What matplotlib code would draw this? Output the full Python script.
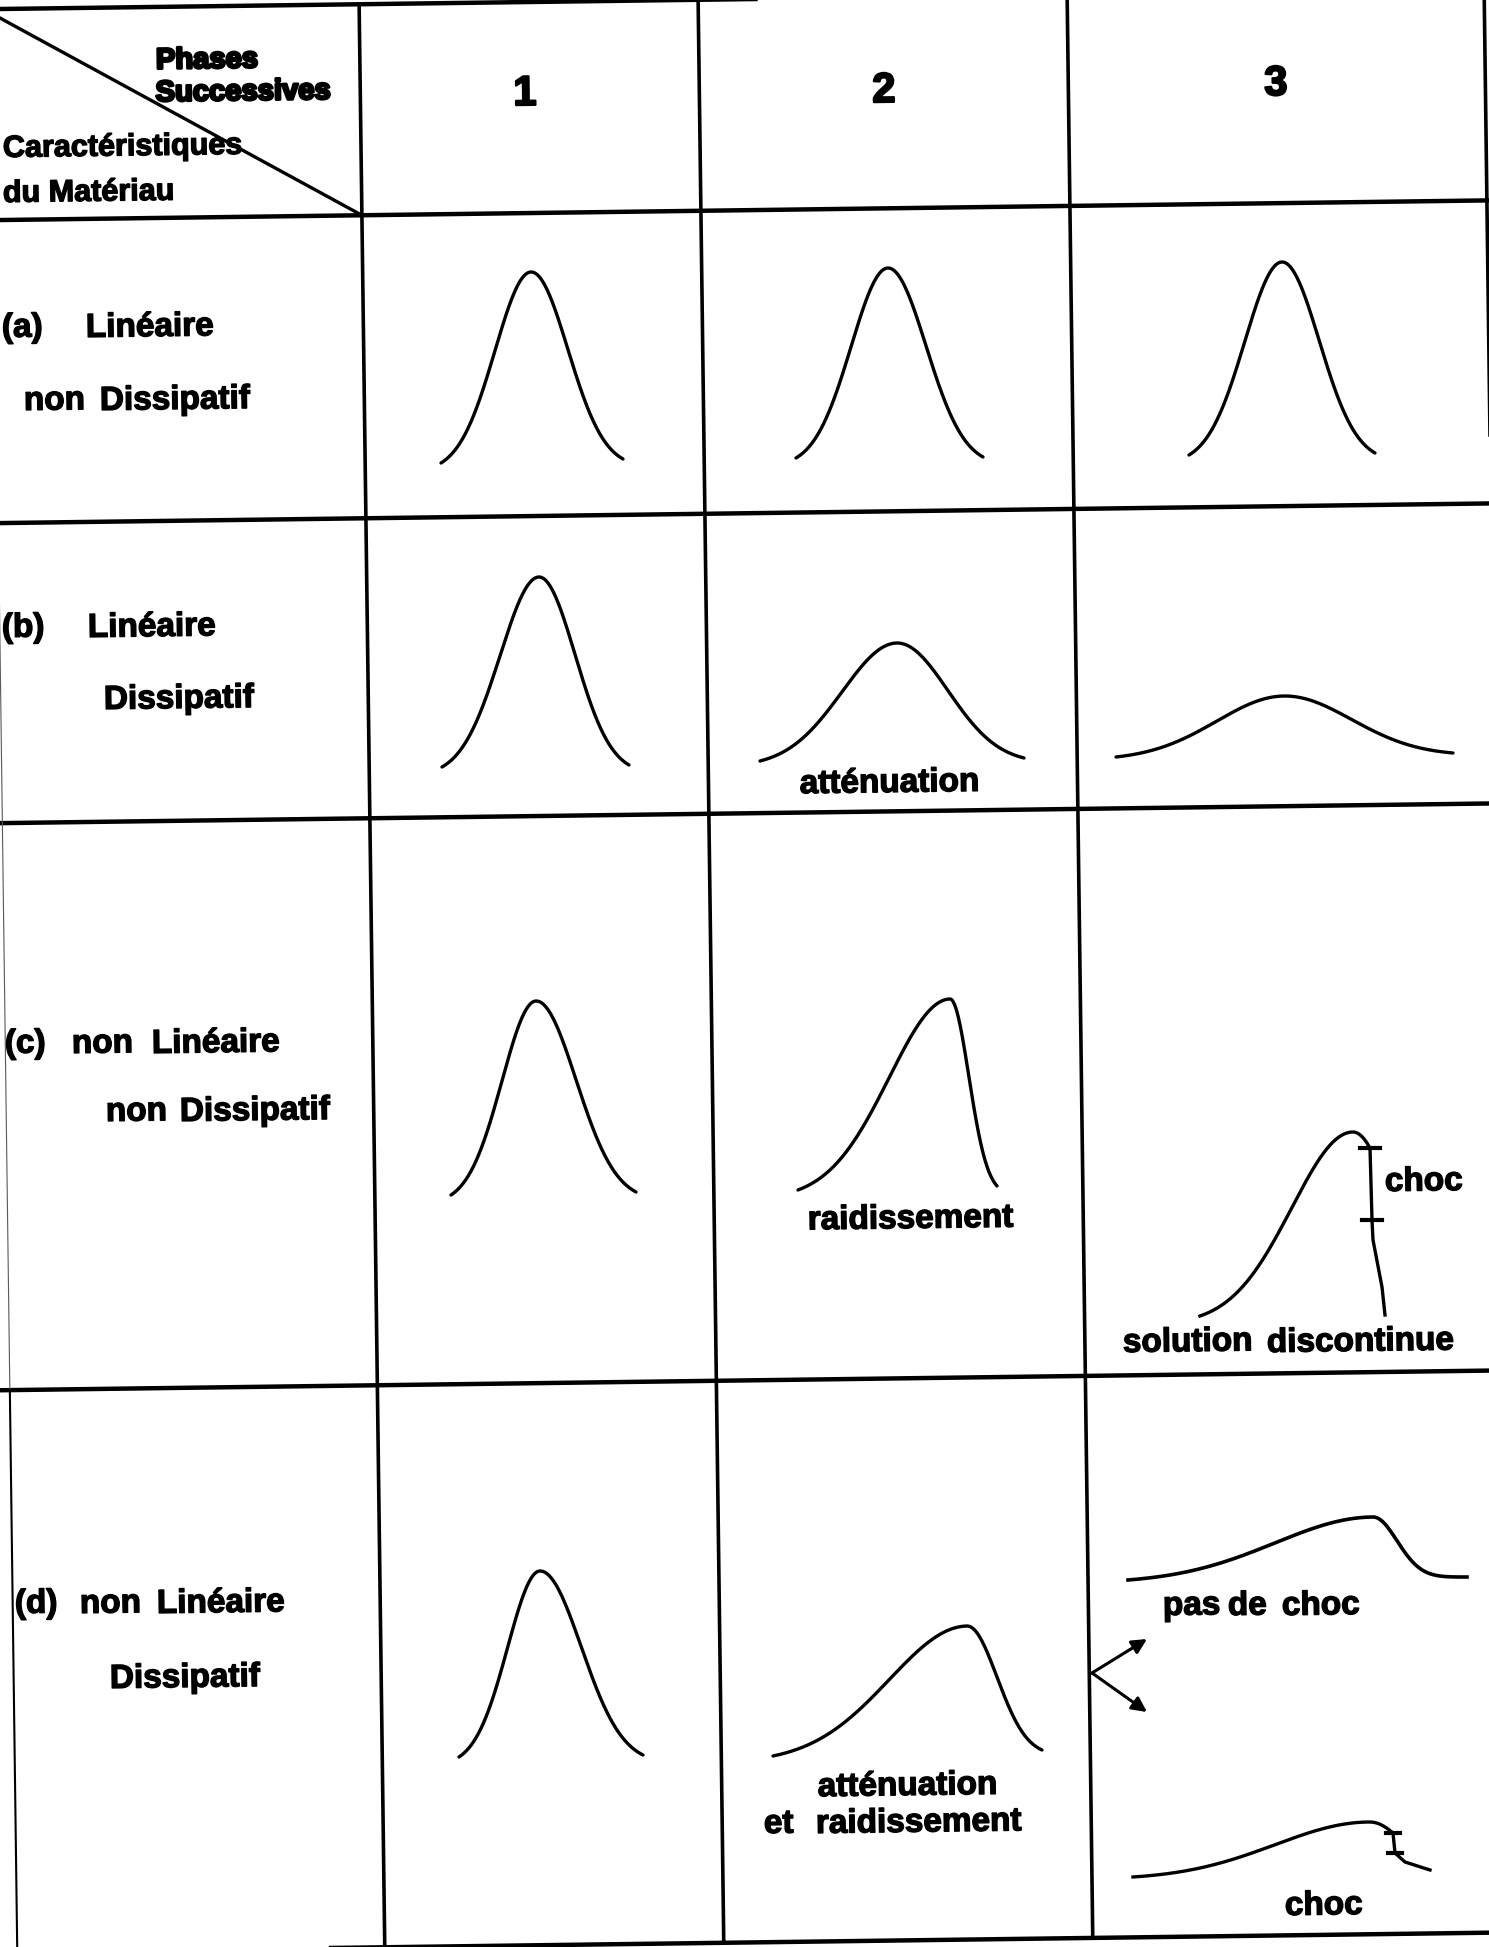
import numpy as np
import matplotlib
matplotlib.use("Agg")
import matplotlib.pyplot as plt
import matplotlib.patheffects as pe

# scanned table: pulse evolution for 4 kinds of material over 3 phases
W, H = 1489, 1947
TILT = 0.0132          # the scan is rotated by ~0.75 deg

# table grid, page coordinates (before the tilt)
col_edges = [359, 698, 1067, 1484]
row_edges = [9, 220, 523, 823, 1390, 1952]

phases = ["1", "2", "3"]
header_top = ["Phases", "Successives"]
header_side = ["Caractéristiques", "du Matériau"]

# row labels, one list of words per row
label_a = ["(a)", "Linéaire", "non", "Dissipatif"]
label_b = ["(b)", "Linéaire", "Dissipatif"]
label_c = ["(c)", "non", "Linéaire", "non", "Dissipatif"]
label_d = ["(d)", "non", "Linéaire", "Dissipatif"]

# pulses: left foot (x, y), crest (x, y), right foot (x, y)
pulse_a = [(441, 463, 531, 272, 623, 459),
           (796, 458, 888, 268, 983, 457),
           (1189, 455, 1282, 262, 1375, 453)]
pulse_b = [(442, 767, 539, 577, 629, 765),
           (760, 761, 897, 643, 1024, 758),
           (1116, 757, 1284, 696, 1453, 753)]
pulse_c = [(451, 1195, 536, 1001, 636, 1192),
           (798, 1190, 950, 999, 997, 1186)]
pulse_d = [(459, 1757, 540, 1571, 643, 1755),
           (773, 1756, 967, 1626, 1042, 1750)]
# (d) phase 3, no shock: slow rise, quick fall onto a tail
pas_de_choc = (1128, 1580, 1373, 1517, 1467, 1577)
pas_de_choc_sigma = (98, 24)

# shocked pulses: foot, crest, end of the rounded cap, then the front
choc_c_rise = (1200, 1316, 1353, 1132, 1367, 1143)
choc_c_front = [(1370, 1148), (1372, 1220), (1373, 1240), (1382, 1287), (1385, 1315)]
choc_c_ticks = [1148, 1220]
choc_d_rise = (1133, 1877, 1370, 1822, 1393, 1833)
choc_d_front = [(1395, 1853), (1405, 1862), (1430, 1870)]
choc_d_ticks = [1833, 1853]


def to_img(u, v):
    u = np.asarray(u, float)
    v = np.asarray(v, float)
    return u + TILT * v, v - TILT * u


def pulse(x0, y0, xp, yp, x1, y1, sl=None, sr=None, n=300):
    sl = sl or (xp - x0) / 2.5
    sr = sr or (x1 - xp) / 2.5
    x = np.linspace(x0, x1, n)
    base = y0 + (y1 - y0) * (x - x0) / (x1 - x0)
    amp = y0 + (y1 - y0) * (xp - x0) / (x1 - x0) - yp
    left = x < xp
    g = np.where(left, np.exp(-0.5 * ((x - xp) / sl) ** 2),
                 np.exp(-0.5 * ((x - xp) / sr) ** 2))
    gl = np.exp(-0.5 * ((x0 - xp) / sl) ** 2)
    gr = np.exp(-0.5 * ((x1 - xp) / sr) ** 2)
    g = np.where(left, (g - gl) / (1 - gl), (g - gr) / (1 - gr))
    return x, base - amp * g


def shocked(rise, front):
    x0, y0, xp, yp, xc, yc = rise
    amp = y0 - yp
    sl = (xp - x0) / 2.5
    xa = np.linspace(x0, xp, 200)
    g0 = np.exp(-3.125)
    ya = y0 - amp * (np.exp(-0.5 * ((xa - xp) / sl) ** 2) - g0) / (1 - g0)
    # rounded cap between the crest and the top of the front
    sr = (xc - xp) / np.sqrt(-2 * np.log(1 - (yc - yp) / amp))
    xb = np.linspace(xp, xc, 40)
    yb = yp + amp * (1 - np.exp(-0.5 * ((xb - xp) / sr) ** 2))
    fx = [p[0] for p in front]
    fy = [p[1] for p in front]
    return np.r_[xa, xb, fx], np.r_[ya, yb, fy]


fig = plt.figure(figsize=(W / 100, H / 100), dpi=100)
ax = fig.add_axes([0, 0, 1, 1])
ax.set_xlim(0, W)
ax.set_ylim(H, 0)
ax.axis("off")

# grid
for v in row_edges:
    x, y = to_img([-20, 1510], [v, v])
    ax.plot(x, y, color="k", lw=3.2, solid_capstyle="butt")
for u in col_edges:
    x, y = to_img([u, u], [row_edges[0], row_edges[-1]])
    ax.plot(x, y, color="k", lw=2.6)
x, y = to_img([-8.5, -8.5], [540, 1390])
ax.plot(x, y, color="0.35", lw=0.8)
x, y = to_img([-8.5, -8.5], [1390, 1952])
ax.plot(x, y, color="k", lw=1.5)
x, y = to_img([-0.3, col_edges[0]], [18, row_edges[1]])
ax.plot(x, y, color="k", lw=2.4)

FONT = ["Liberation Sans", "DejaVu Sans"]


def put(x, y, s, size=24, ha="left", stroke=1.0):
    ax.text(x, y, s, ha=ha, va="baseline", fontsize=size, fontweight="bold",
            family=FONT, rotation=0.76, rotation_mode="anchor",
            path_effects=[pe.withStroke(linewidth=stroke, foreground="k")])


# header
put(207, 68, header_top[0], size=21, ha="center", stroke=2.0)
put(243, 100, header_top[1], size=21, ha="center", stroke=2.0)
put(3, 157, header_side[0], size=22)
put(3, 202, header_side[1], size=22)
for s, x, y in zip(phases, [525, 884, 1276], [105, 102, 95]):
    put(x, y, s, size=30, ha="center", stroke=1.6)

# row labels
for words, xs, ys in [
        (label_a, [2, 86, 24, 100], [337, 337, 410, 410]),
        (label_b, [2, 88, 104], [637, 637, 709]),
        (label_c, [5, 72, 152, 106, 180], [1053, 1053, 1053, 1121, 1121]),
        (label_d, [15, 80, 157, 110], [1613, 1613, 1613, 1688])]:
    for s, x, y in zip(words, xs, ys):
        put(x, y, s)

# pulses
for row in (pulse_a, pulse_b, pulse_c, pulse_d):
    for p in row:
        x, y = pulse(*p)
        ax.plot(x, y, color="k", lw=2.4, solid_capstyle="round")
x, y = pulse(*pas_de_choc, *pas_de_choc_sigma)
ax.plot(x, y, color="k", lw=2.6)

for rise, front, ticks, half in [(choc_c_rise, choc_c_front, choc_c_ticks, 10),
                                 (choc_d_rise, choc_d_front, choc_d_ticks, 7)]:
    x, y = shocked(rise, front)
    ax.plot(x, y, color="k", lw=2.4)
    for t in ticks:
        xt = np.interp(t, y[-len(front) - 1:], x[-len(front) - 1:])
        ax.plot([xt - half, xt + half], [t, t], color="k", lw=3.0)

# cell annotations
put(890, 792, "atténuation", ha="center")
put(911, 1228, "raidissement", ha="center")
put(908, 1795, "atténuation", ha="center")
put(764, 1833, "et")
put(816, 1833, "raidissement")
put(1385, 1191, "choc")
put(1123, 1352, "solution")
put(1267, 1352, "discontinue")
put(1163, 1615, "pas")
put(1228, 1615, "de")
put(1282, 1615, "choc")
put(1285, 1915, "choc")

# fork towards the two possible outcomes
for tip in [(1147, 1639), (1147, 1712)]:
    ax.annotate("", xy=tip, xytext=(1092, 1673),
                arrowprops=dict(arrowstyle="-|>", lw=2.2, color="k",
                                mutation_scale=22, shrinkA=0, shrinkB=0))

fig.savefig("out.png", dpi=100, facecolor="white")
